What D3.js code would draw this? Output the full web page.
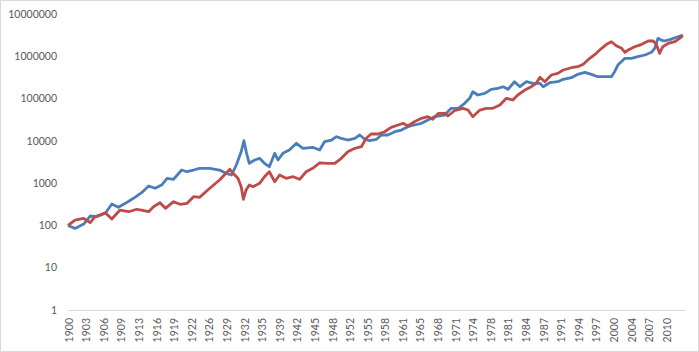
<!DOCTYPE html>
<html>
<head>
<meta charset="utf-8">
<script src="https://cdn.jsdelivr.net/npm/d3@7"></script>
<style>
  html, body { margin: 0; padding: 0; background: #fff; }
  svg { display: block; }
</style>
</head>
<body>
<div id="chart"></div>
<script>
// Values: [year, value]
const blueSeries = [
  [1900, 100], [1901.3, 85], [1902.9, 108], [1904.1, 167], [1905.3, 161], [1906.9, 194],
  [1908.1, 321], [1909.3, 268], [1910.6, 333], [1912.1, 438], [1913.6, 594], [1914.9, 855],
  [1916.1, 755], [1917.3, 903], [1918.3, 1300], [1919.5, 1233], [1921.0, 2043], [1922.0, 1862],
  [1923.2, 2043], [1924.3, 2243], [1926.2, 2243], [1928.0, 2043], [1929.2, 1708], [1930.2, 1557],
  [1931.1, 2684], [1932.0, 5538], [1932.5, 10076], [1933.0, 5074], [1933.5, 2944], [1934.5, 3524],
  [1935.4, 3864], [1936.3, 2944], [1937.2, 2446], [1938.2, 5074], [1938.8, 3524], [1939.7, 5074],
  [1940.9, 6072], [1942.2, 8749], [1943.4, 6666], [1945.2, 7035], [1946.5, 6072], [1947.4, 9550],
  [1948.7, 10470], [1949.6, 12530], [1950.5, 11480], [1951.7, 10470], [1953.0, 11480], [1953.9, 13740],
  [1954.8, 11060], [1955.7, 10080], [1957.0, 10870], [1957.9, 13740], [1959.1, 13740], [1960.4, 16450],
  [1961.6, 18040], [1962.8, 21590], [1964.0, 23690], [1965.3, 26000], [1966.5, 31120], [1967.7, 37240],
  [1969.6, 40830], [1970.8, 58770], [1972.1, 58770], [1973.3, 77270], [1974.2, 101400], [1974.8, 145200],
  [1975.7, 121400], [1977.0, 133100], [1978.2, 165500], [1979.4, 174700], [1980.4, 190600], [1981.3, 165500],
  [1982.5, 250300], [1983.5, 190600], [1984.7, 250300], [1985.9, 229500], [1987.2, 229500], [1987.8, 190600],
  [1989.0, 237000], [1990.5, 250300], [1991.5, 285300], [1993.0, 311200], [1994.2, 374300], [1995.5, 417600],
  [1996.7, 374300], [1997.9, 328700], [1999.2, 328700], [2000.4, 328700], [2001.0, 431500], [2001.6, 621200],
  [2002.9, 895100], [2004.1, 895100], [2005.3, 977000], [2006.6, 1072000], [2007.8, 1241000], [2008.4, 1543000],
  [2009.0, 2660000], [2009.6, 2422000], [2010.2, 2296000], [2011.5, 2559000], [2012.7, 2904000], [2013.6, 3186000]
];

const redSeries = [
  [1900, 100], [1901.3, 134], [1902.9, 147], [1904.1, 116], [1905.0, 161], [1906.9, 200],
  [1908.1, 142], [1909.6, 231], [1911.2, 211], [1912.7, 241], [1913.6, 231], [1914.9, 211],
  [1915.8, 277], [1917.0, 345], [1918.0, 254], [1919.5, 364], [1920.7, 316], [1922.0, 333],
  [1923.2, 478], [1924.3, 462], [1926.2, 755], [1928.0, 1186], [1929.2, 1708], [1929.9, 2124],
  [1930.5, 1708], [1931.4, 1300], [1932.0, 824], [1932.4, 415], [1932.9, 688], [1933.5, 903],
  [1934.2, 824], [1935.4, 991], [1936.3, 1419], [1937.2, 1862], [1938.2, 1081], [1939.1, 1557],
  [1940.3, 1300], [1941.6, 1419], [1942.8, 1233], [1944.0, 1862], [1945.2, 2243], [1946.5, 3000],
  [1948.0, 2944], [1949.3, 2944], [1950.5, 3864], [1951.7, 5538], [1953.0, 6666], [1954.2, 7268],
  [1955.1, 11480], [1956.0, 14510], [1957.3, 14510], [1958.5, 16450], [1959.7, 20890], [1961.0, 23690],
  [1961.9, 26000], [1962.8, 22430], [1964.0, 28360], [1965.3, 34130], [1966.5, 37240], [1967.4, 32300],
  [1968.4, 44780], [1969.6, 44780], [1970.2, 38660], [1971.4, 51590], [1973.0, 58770], [1973.9, 53590],
  [1974.8, 37240], [1976.1, 53590], [1977.3, 58770], [1978.5, 58770], [1979.8, 70340], [1981.0, 101400],
  [1982.2, 92460], [1983.1, 121400], [1984.4, 159300], [1985.6, 190600], [1986.5, 229500], [1987.2, 318000],
  [1988.1, 250300], [1989.3, 360600], [1990.5, 395500], [1991.5, 473200], [1993.0, 536300], [1994.2, 566000],
  [1995.2, 645700], [1996.4, 895100], [1997.6, 1175000], [1998.6, 1543000], [1999.5, 1918000], [2000.4, 2209000],
  [2001.3, 1777000], [2002.3, 1543000], [2002.9, 1241000], [2003.5, 1407000], [2004.7, 1683000], [2006.0, 1918000],
  [2007.2, 2296000], [2008.1, 2296000], [2008.7, 1918000], [2009.3, 1175000], [2009.9, 1683000], [2010.9, 2026000],
  [2012.1, 2209000], [2013.0, 2660000], [2013.6, 3063000]
];

// Category labels shown every 39 months
const xTickLabels = ["1900", "1903", "1906", "1909", "1913", "1916", "1919", "1922", "1926", "1929",
  "1932", "1935", "1939", "1942", "1945", "1948", "1952", "1955", "1958", "1961", "1965", "1968",
  "1971", "1974", "1978", "1981", "1984", "1987", "1991", "1994", "1997", "2000", "2004", "2007", "2010"];
const yTickValues = [1, 10, 100, 1000, 10000, 100000, 1000000, 10000000];

const width = 699, height = 352;
const margin = { top: 14, right: 14, bottom: 42, left: 68 };

const svg = d3.select('#chart').append('svg')
  .attr('width', width)
  .attr('height', height);

svg.append('rect')
  .attr('x', 0.5).attr('y', 0.5)
  .attr('width', width - 1).attr('height', height - 1)
  .attr('fill', '#fff')
  .attr('stroke', '#d9d9d9');

const x = d3.scaleLinear()
  .domain([1900, 2014])
  .range([margin.left, width - margin.right]);

const y = d3.scaleLog()
  .domain([1, 10000000])
  .range([height - margin.bottom, margin.top]);

const textColor = '#595959';
const font = 'Lato, "Liberation Sans", sans-serif';

// y axis labels
svg.append('g')
  .selectAll('text')
  .data(yTickValues)
  .join('text')
  .attr('x', margin.left - 11)
  .attr('y', d => y(d))
  .attr('dy', '0.35em')
  .attr('text-anchor', 'end')
  .attr('fill', textColor)
  .attr('font-family', font)
  .attr('font-size', 10.5)
  .text(d => d3.format('d')(d));

// x axis line
svg.append('line')
  .attr('x1', x(1900)).attr('x2', x(2014))
  .attr('y1', y(1) + 0.5).attr('y2', y(1) + 0.5)
  .attr('stroke', '#d9d9d9')
  .attr('stroke-width', 1);

// x labels, rotated
const xTicks = xTickLabels.map((label, i) => ({ label, pos: 1900 + i * 39 / 12 }));
svg.append('g')
  .selectAll('text')
  .data(xTicks)
  .join('text')
  .attr('transform', d => `translate(${x(d.pos) + 1},${y(1) + 8}) rotate(-90)`)
  .attr('dy', '0.35em')
  .attr('text-anchor', 'end')
  .attr('fill', textColor)
  .attr('font-family', font)
  .attr('font-size', 10.5)
  .text(d => d.label);

const line = d3.line()
  .x(d => x(d[0]))
  .y(d => y(d[1]));

svg.append('path')
  .datum(blueSeries)
  .attr('fill', 'none')
  .attr('stroke', '#4a7ebb')
  .attr('stroke-width', 2.8)
  .attr('stroke-linejoin', 'round')
  .attr('d', line);

svg.append('path')
  .datum(redSeries)
  .attr('fill', 'none')
  .attr('stroke', '#be4b48')
  .attr('stroke-width', 2.8)
  .attr('stroke-linejoin', 'round')
  .attr('d', line);
</script>
</body>
</html>
